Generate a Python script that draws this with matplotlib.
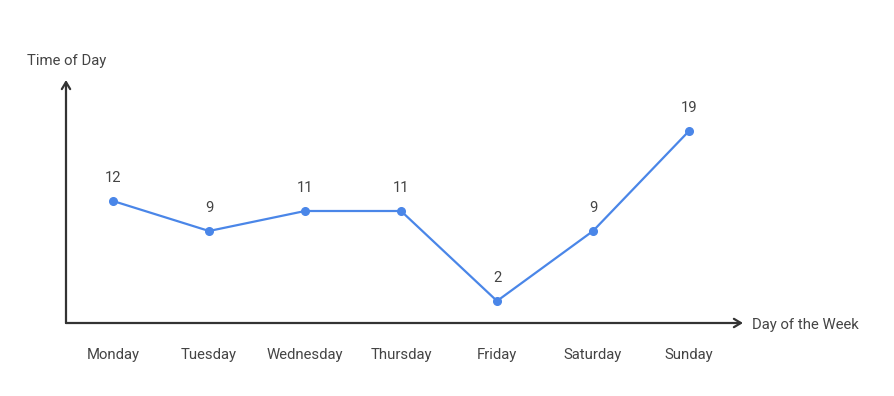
import matplotlib.pyplot as plt

plt.rcParams['font.family'] = ['Roboto', 'DejaVu Sans']

days = ['Monday', 'Tuesday', 'Wednesday', 'Thursday', 'Friday', 'Saturday', 'Sunday']
values = [12, 9, 11, 11, 2, 9, 19]

W, H = 894, 396
fig = plt.figure(figsize=(W / 100, H / 100), dpi=100)
ax = fig.add_axes([66 / W, (H - 323) / H, (743 - 66) / W, (323 - 80) / H])

x = list(range(len(days)))
ax.plot(x, values, color='#4a86e8', lw=1.6, marker='o', ms=5.5, zorder=3)
ax.set_xlim(-0.49, 6.5625)
ax.set_ylim(-0.2, 24.1)

for s in ax.spines.values():
    s.set_visible(False)
ax.set_xticks([])
ax.set_yticks([])

axc = '#333333'
ax.annotate('', xy=(1, 0), xytext=(0, 0), xycoords='axes fraction',
            arrowprops=dict(arrowstyle='->,head_length=0.5,head_width=0.3', color=axc, lw=1.6,
                            shrinkA=0, shrinkB=0))
ax.annotate('', xy=(0, 1), xytext=(0, 0), xycoords='axes fraction',
            arrowprops=dict(arrowstyle='->,head_length=0.5,head_width=0.3', color=axc, lw=1.6,
                            shrinkA=0, shrinkB=0))

tc = '#444444'
fs = 10.7
for xi, v in zip(x, values):
    ax.annotate(str(v), (xi, v), xytext=(0, 16.6), textcoords='offset points',
                ha='center', va='center', fontsize=fs, color=tc)

for xi, d in zip(x, days):
    ax.text(xi, -31.5 / 243, d, transform=ax.get_xaxis_transform(), ha='center', va='center',
            fontsize=fs, color=tc)

fig.text(27 / W, 1 - 60.5 / H, 'Time of Day', ha='left', va='center', fontsize=fs, color=tc)
fig.text(752 / W, 1 - 324.5 / H, 'Day of the Week', ha='left', va='center', fontsize=fs, color=tc)

fig.savefig('out.png', dpi=100)
